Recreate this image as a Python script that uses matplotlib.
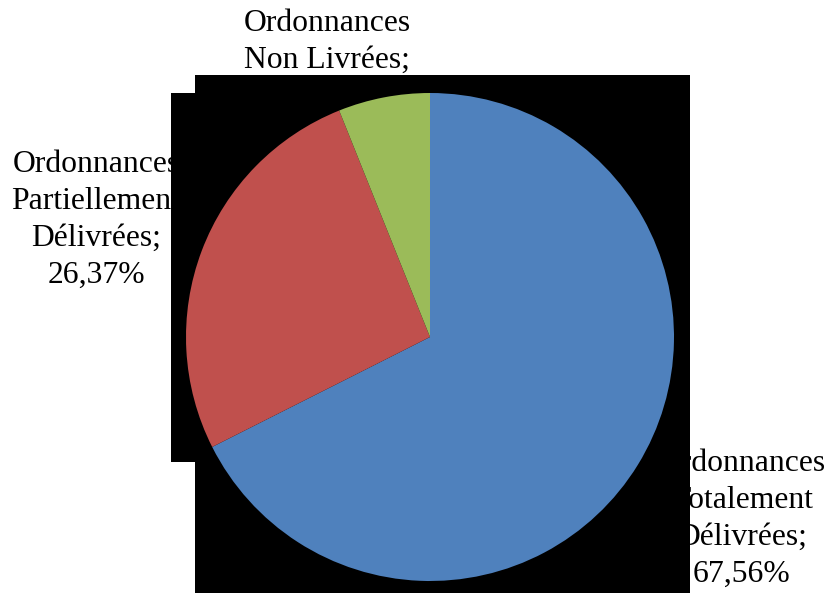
import matplotlib
matplotlib.use("Agg")
import matplotlib.pyplot as plt
from matplotlib.patches import Rectangle

categories = ["Ordonnances\nTotalement\nDélivrées", "Ordonnances\nPartiellement\nDélivrées", "Ordonnances\nNon Livrées"]
values = [67.56, 26.37, 6.07]
colors = ["#4F81BD", "#C0504D", "#9BBB59"]

W, H = 831, 593
fig = plt.figure(figsize=(W / 100, H / 100), dpi=100)
ax = fig.add_axes([0, 0, 1, 1])
ax.set_xlim(0, W)
ax.set_ylim(0, H)
ax.set_aspect("equal")
ax.axis("off")

font = dict(family=["Liberation Serif", "DejaVu Serif"], size=22.8, color="black")
label_pos = [(742, H - 519), (96, H - 220), (327, H - 60)]
for cat, val, (x, y) in zip(categories, values, label_pos):
    txt = f"{cat};\n{val:.2f}%".replace(".", ",")
    ax.text(x, y, txt, ha="center", va="center", multialignment="center",
            linespacing=1.36, zorder=1, **font)

# black background shapes
ax.add_patch(Rectangle((195, 0), 690 - 195, H - 75, facecolor="black", edgecolor="none", zorder=2))
ax.add_patch(Rectangle((171, H - 462), 690 - 171, 462 - 93, facecolor="black", edgecolor="none", zorder=2))

ax.pie(values, colors=colors, startangle=90, counterclock=False,
       center=(430, H - 337), radius=244, frame=True,
       wedgeprops=dict(linewidth=0, zorder=3))
ax.set_xlim(0, W)
ax.set_ylim(0, H)
ax.axis("off")

fig.savefig("out.png", dpi=100)
